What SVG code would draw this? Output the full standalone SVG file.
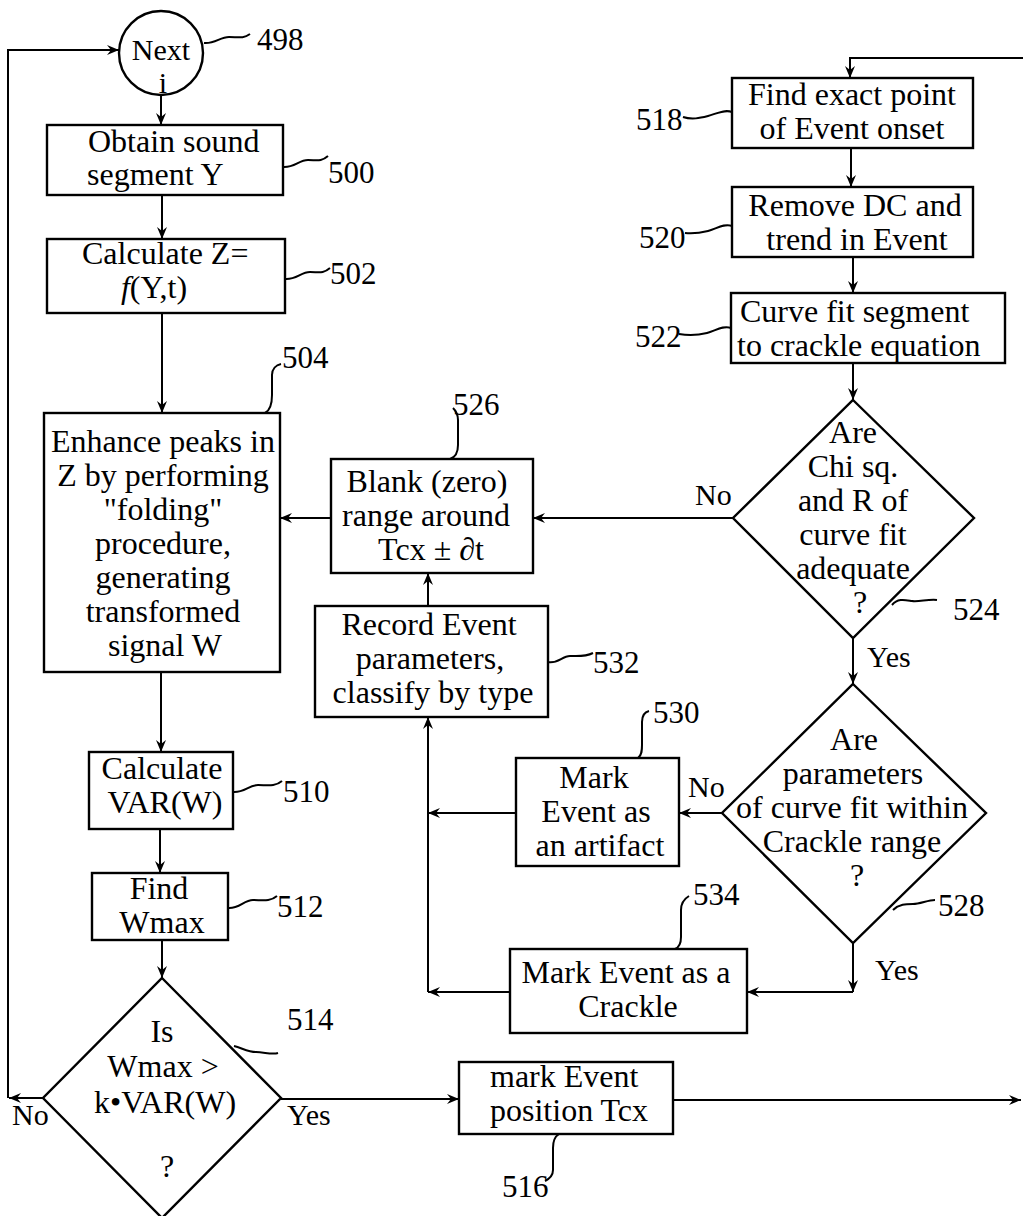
<svg xmlns="http://www.w3.org/2000/svg" width="1023" height="1216" viewBox="0 0 1023 1216">
<style>
  .bg{fill:#fff}
  .box{fill:#fff;stroke:#000;stroke-width:2.4}
  .ln{fill:none;stroke:#000;stroke-width:2}
  .ldr{fill:none;stroke:#000;stroke-width:2}
  .t{font-family:"Liberation Serif","Times New Roman",serif;font-size:32px;fill:#000;text-anchor:middle}
  .ts{font-family:"Liberation Serif","Times New Roman",serif;font-size:32px;fill:#000;text-anchor:start}
  .lb{font-family:"Liberation Serif","Times New Roman",serif;font-size:31px;fill:#000;text-anchor:start}
  .yn{font-family:"Liberation Serif","Times New Roman",serif;font-size:30px;fill:#000;text-anchor:start}
</style>
<defs>
  <marker id="ah" viewBox="0 0 12 10" refX="12" refY="5" markerWidth="12" markerHeight="10" markerUnits="userSpaceOnUse" orient="auto">
    <path d="M0,0 L12,5 L0,10 L4,5 Z" fill="#000"/>
  </marker>
</defs>
<rect class="bg" x="0" y="0" width="1023" height="1216"/>

<g id="connectors">
  <path class="ln" d="M43,1098 L9,1098" marker-end="url(#ah)"/>
  <path class="ln" d="M8,1098 L8,50 L119,50" marker-end="url(#ah)"/>
  <path class="ln" d="M161,95 L161,125" marker-end="url(#ah)"/>
  <path class="ln" d="M162,195 L162,239" marker-end="url(#ah)"/>
  <path class="ln" d="M162,313 L162,413" marker-end="url(#ah)"/>
  <path class="ln" d="M161,672 L161,752" marker-end="url(#ah)"/>
  <path class="ln" d="M160,829 L160,873" marker-end="url(#ah)"/>
  <path class="ln" d="M162,940 L162,978" marker-end="url(#ah)"/>
  <path class="ln" d="M281,1099 L459,1099" marker-end="url(#ah)"/>
  <path class="ln" d="M673,1100 L1021,1100" marker-end="url(#ah)"/>
  <path class="ln" d="M1023,58 L850,58 L850,78" marker-end="url(#ah)"/>
  <path class="ln" d="M851,148 L851,187" marker-end="url(#ah)"/>
  <path class="ln" d="M853,257 L853,293" marker-end="url(#ah)"/>
  <path class="ln" d="M853,363 L853,400" marker-end="url(#ah)"/>
  <path class="ln" d="M733,518 L533,518" marker-end="url(#ah)"/>
  <path class="ln" d="M331,518 L280,518" marker-end="url(#ah)"/>
  <path class="ln" d="M853,638 L853,684" marker-end="url(#ah)"/>
  <path class="ln" d="M722,813 L679,813" marker-end="url(#ah)"/>
  <path class="ln" d="M853,943 L853,992" marker-end="url(#ah)"/>
  <path class="ln" d="M853,992 L747,992" marker-end="url(#ah)"/>
  <path class="ln" d="M516,813 L428,813" marker-end="url(#ah)"/>
  <path class="ln" d="M510,992 L428,992" marker-end="url(#ah)"/>
  <path class="ln" d="M428,992 L428,717" marker-end="url(#ah)"/>
  <path class="ln" d="M428,606 L428,573" marker-end="url(#ah)"/>
  <text class="yn" x="12" y="1125">No</text>
  <text class="yn" x="287" y="1125">Yes</text>
  <text class="yn" x="695" y="505">No</text>
  <text class="yn" x="867" y="667">Yes</text>
  <text class="yn" x="688" y="797">No</text>
  <text class="yn" x="875" y="980">Yes</text>
</g>

<g id="n498">
  <circle class="box" cx="161" cy="53" r="42"/>
  <text class="t" x="161" y="60" style="font-size:30px">Next</text>
  <text class="t" x="163" y="93" style="font-size:30px">i</text>
  <path class="ldr" d="M204,43 C215,44 220,37 229,37 S243,39 250,34"/>
  <text class="lb" x="257" y="50">498</text>
</g>

<g id="n500">
  <rect class="box" x="47" y="125" width="236" height="70"/>
  <text class="ts" x="88" y="152">Obtain sound</text>
  <text class="ts" x="87" y="185">segment Y</text>
  <path class="ldr" d="M283,167 C294,168 299,160 308,160 S321,162 328,156"/>
  <text class="lb" x="328" y="183">500</text>
</g>

<g id="n502">
  <rect class="box" x="47" y="239" width="238" height="74"/>
  <text class="ts" x="82" y="264">Calculate Z=</text>
  <text class="t" x="154" y="298"><tspan font-style="italic">f</tspan>(Y,t)</text>
  <path class="ldr" d="M285,279 C296,280 301,272 310,272 S323,274 330,268"/>
  <text class="lb" x="330" y="284">502</text>
</g>

<g id="n504">
  <rect class="box" x="44" y="413" width="236" height="259"/>
  <text class="t" x="163" y="452">Enhance peaks in</text>
  <text class="t" x="163" y="486">Z by performing</text>
  <text class="t" x="163" y="520">"folding"</text>
  <text class="t" x="163" y="554">procedure,</text>
  <text class="t" x="163" y="588">generating</text>
  <text class="t" x="163" y="622">transformed</text>
  <text class="t" x="165" y="656">signal W</text>
  <path class="ldr" d="M265,413 C271,410 272,403 272,395 L272,375 C272,369 276,365 281,364"/>
  <text class="lb" x="282" y="368">504</text>
</g>

<g id="n510">
  <rect class="box" x="89" y="752" width="144" height="77"/>
  <text class="t" x="162" y="779">Calculate</text>
  <text class="t" x="165" y="813">VAR(W)</text>
  <path class="ldr" d="M233,792 C244,793 249,785 258,785 S275,787 282,781"/>
  <text class="lb" x="283" y="802">510</text>
</g>

<g id="n512">
  <rect class="box" x="92" y="873" width="136" height="67"/>
  <text class="t" x="159" y="899">Find</text>
  <text class="t" x="162" y="933">Wmax</text>
  <path class="ldr" d="M228,908 C239,909 244,900 253,900 S270,902 277,896"/>
  <text class="lb" x="277" y="917">512</text>
</g>

<g id="n514">
  <polygon class="box" points="162,978 281,1098 162,1218 43,1098"/>
  <text class="t" x="162" y="1042">Is</text>
  <text class="t" x="163" y="1077">Wmax &gt;</text>
  <text class="t" x="165" y="1113">k•VAR(W)</text>
  <text class="t" x="167" y="1177">?</text>
  <path class="ldr" d="M234,1046 C242,1048 248,1052 256,1052 S272,1055 278,1053"/>
  <text class="lb" x="287" y="1030">514</text>
</g>

<g id="n516">
  <rect class="box" x="459" y="1062" width="214" height="72"/>
  <text class="ts" x="490" y="1087">mark Event</text>
  <text class="ts" x="490" y="1121">position Tcx</text>
  <path class="ldr" d="M559,1134 C554,1137 553,1142 553,1148 L553,1170 C553,1176 549,1179 545,1181"/>
  <text class="lb" x="502" y="1197">516</text>
</g>

<g id="n518">
  <rect class="box" x="732" y="78" width="241" height="70"/>
  <text class="t" x="852" y="105">Find exact point</text>
  <text class="t" x="852" y="139">of Event onset</text>
  <path class="ldr" d="M732,112 C724,109 716,114 708,116 S692,120 683,117"/>
  <text class="lb" x="636" y="130">518</text>
</g>

<g id="n520">
  <rect class="box" x="732" y="187" width="241" height="70"/>
  <text class="t" x="855" y="216">Remove DC and</text>
  <text class="t" x="857" y="250">trend in Event</text>
  <path class="ldr" d="M732,226 C724,223 716,229 708,231 S693,234 685,233"/>
  <text class="lb" x="639" y="248">520</text>
</g>

<g id="n522">
  <rect class="box" x="731" y="293" width="274" height="70"/>
  <text class="ts" x="740" y="322">Curve fit segment</text>
  <text class="ts" x="737" y="356">to crackle equation</text>
  <path class="ldr" d="M731,328 C723,325 715,331 707,333 S690,336 679,334"/>
  <text class="lb" x="635" y="347">522</text>
</g>

<g id="n524">
  <polygon class="box" points="853,400 974,518 853,638 733,518"/>
  <text class="t" x="853" y="443">Are</text>
  <text class="t" x="853" y="477">Chi sq.</text>
  <text class="t" x="853" y="511">and R of</text>
  <text class="t" x="853" y="545">curve fit</text>
  <text class="t" x="853" y="579">adequate</text>
  <text class="t" x="860" y="613">?</text>
  <path class="ldr" d="M892,605 C898,598 905,600 912,601 S928,599 937,600"/>
  <text class="lb" x="953" y="620">524</text>
</g>

<g id="n526">
  <rect class="box" x="331" y="459" width="202" height="114"/>
  <text class="t" x="427" y="492">Blank (zero)</text>
  <text class="t" x="426" y="526">range around</text>
  <text class="t" x="431" y="560">Tcx ± ∂t</text>
  <path class="ldr" d="M450,459 C456,457 458,452 458,445 L458,420 C458,415 456,411 453,408"/>
  <text class="lb" x="453" y="415">526</text>
</g>

<g id="n528">
  <polygon class="box" points="853,684 986,813 853,943 722,813"/>
  <text class="t" x="854" y="750">Are</text>
  <text class="t" x="853" y="784">parameters</text>
  <text class="t" x="852" y="818">of curve fit within</text>
  <text class="t" x="852" y="852">Crackle range</text>
  <text class="t" x="857" y="886">?</text>
  <path class="ldr" d="M893,910 C899,904 906,904 913,904 S928,900 935,900"/>
  <text class="lb" x="938" y="916">528</text>
</g>

<g id="n530">
  <rect class="box" x="516" y="758" width="163" height="108"/>
  <text class="t" x="594" y="788">Mark</text>
  <text class="t" x="596" y="822">Event as</text>
  <text class="t" x="600" y="856">an artifact</text>
  <path class="ldr" d="M638,758 C642,755 642,750 642,745 L642,722 C642,716 645,712 649,711"/>
  <text class="lb" x="653" y="723">530</text>
</g>

<g id="n532">
  <rect class="box" x="315" y="606" width="233" height="111"/>
  <text class="t" x="429" y="635">Record Event</text>
  <text class="t" x="430" y="669">parameters,</text>
  <text class="t" x="433" y="703">classify by type</text>
  <path class="ldr" d="M548,662 C558,664 562,656 570,656 S585,657 593,653"/>
  <text class="lb" x="593" y="673">532</text>
</g>

<g id="n534">
  <rect class="box" x="510" y="949" width="237" height="84"/>
  <text class="t" x="626" y="983">Mark Event as a</text>
  <text class="t" x="628" y="1017">Crackle</text>
  <path class="ldr" d="M675,949 C680,947 681,942 681,937 L681,910 C681,903 684,899 689,896"/>
  <text class="lb" x="693" y="905">534</text>
</g>
</svg>
